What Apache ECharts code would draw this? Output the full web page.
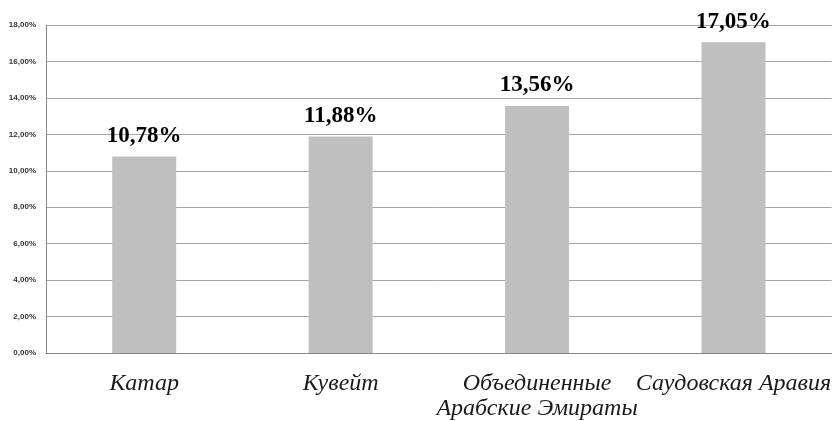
<!DOCTYPE html>
<html>
<head>
<meta charset="utf-8">
<script src="https://cdn.jsdelivr.net/npm/echarts@6/dist/echarts.min.js"></script>
<style>html,body{margin:0;padding:0;background:#fff}#c{width:834px;height:421px}</style>
</head>
<body>
<div id="c"></div>
<script>
const categories = ['Катар', 'Кувейт', 'Объединенные\nАрабские Эмираты', 'Саудовская Аравия'];
const values = [10.78, 11.88, 13.56, 17.05];
const yMin = 0, yMax = 18, yStep = 2;

function fmt(v){ return v.toFixed(2).replace('.', ','); }

const chart = echarts.init(document.getElementById('c'));
chart.setOption({
  animation: false,
  backgroundColor: '#ffffff',
  grid: { left: 46, right: 1, top: 25, bottom: 65, containLabel: false },
  xAxis: {
    type: 'category',
    data: categories,
    axisLine: { lineStyle: { color: '#888888', width: 1 } },
    axisTick: { show: false },
    axisLabel: {
      interval: 0,
      margin: 18,
      fontFamily: 'Liberation Serif',
      fontStyle: 'italic',
      fontSize: 24,
      lineHeight: 25,
      color: '#1a1a1a'
    }
  },
  yAxis: {
    type: 'value',
    min: yMin, max: yMax, interval: yStep,
    axisLine: { show: true, lineStyle: { color: '#888888', width: 1 } },
    axisTick: { show: false },
    splitLine: { lineStyle: { color: '#a6a6a6', width: 1 } },
    axisLabel: {
      margin: 10,
      fontFamily: 'Liberation Sans',
      fontSize: 8,
      fontWeight: 'bold',
      color: '#333333',
      formatter: v => fmt(v) + '%'
    }
  },
  series: [{
    type: 'bar',
    data: values,
    barWidth: 64,
    itemStyle: { color: '#bfbfbf' },
    label: {
      show: true,
      position: 'top',
      distance: 9,
      fontFamily: 'Liberation Serif',
      fontWeight: 'bold',
      fontSize: 23,
      color: '#000000',
      formatter: p => fmt(p.value) + '%'
    }
  }]
});
</script>
</body>
</html>
